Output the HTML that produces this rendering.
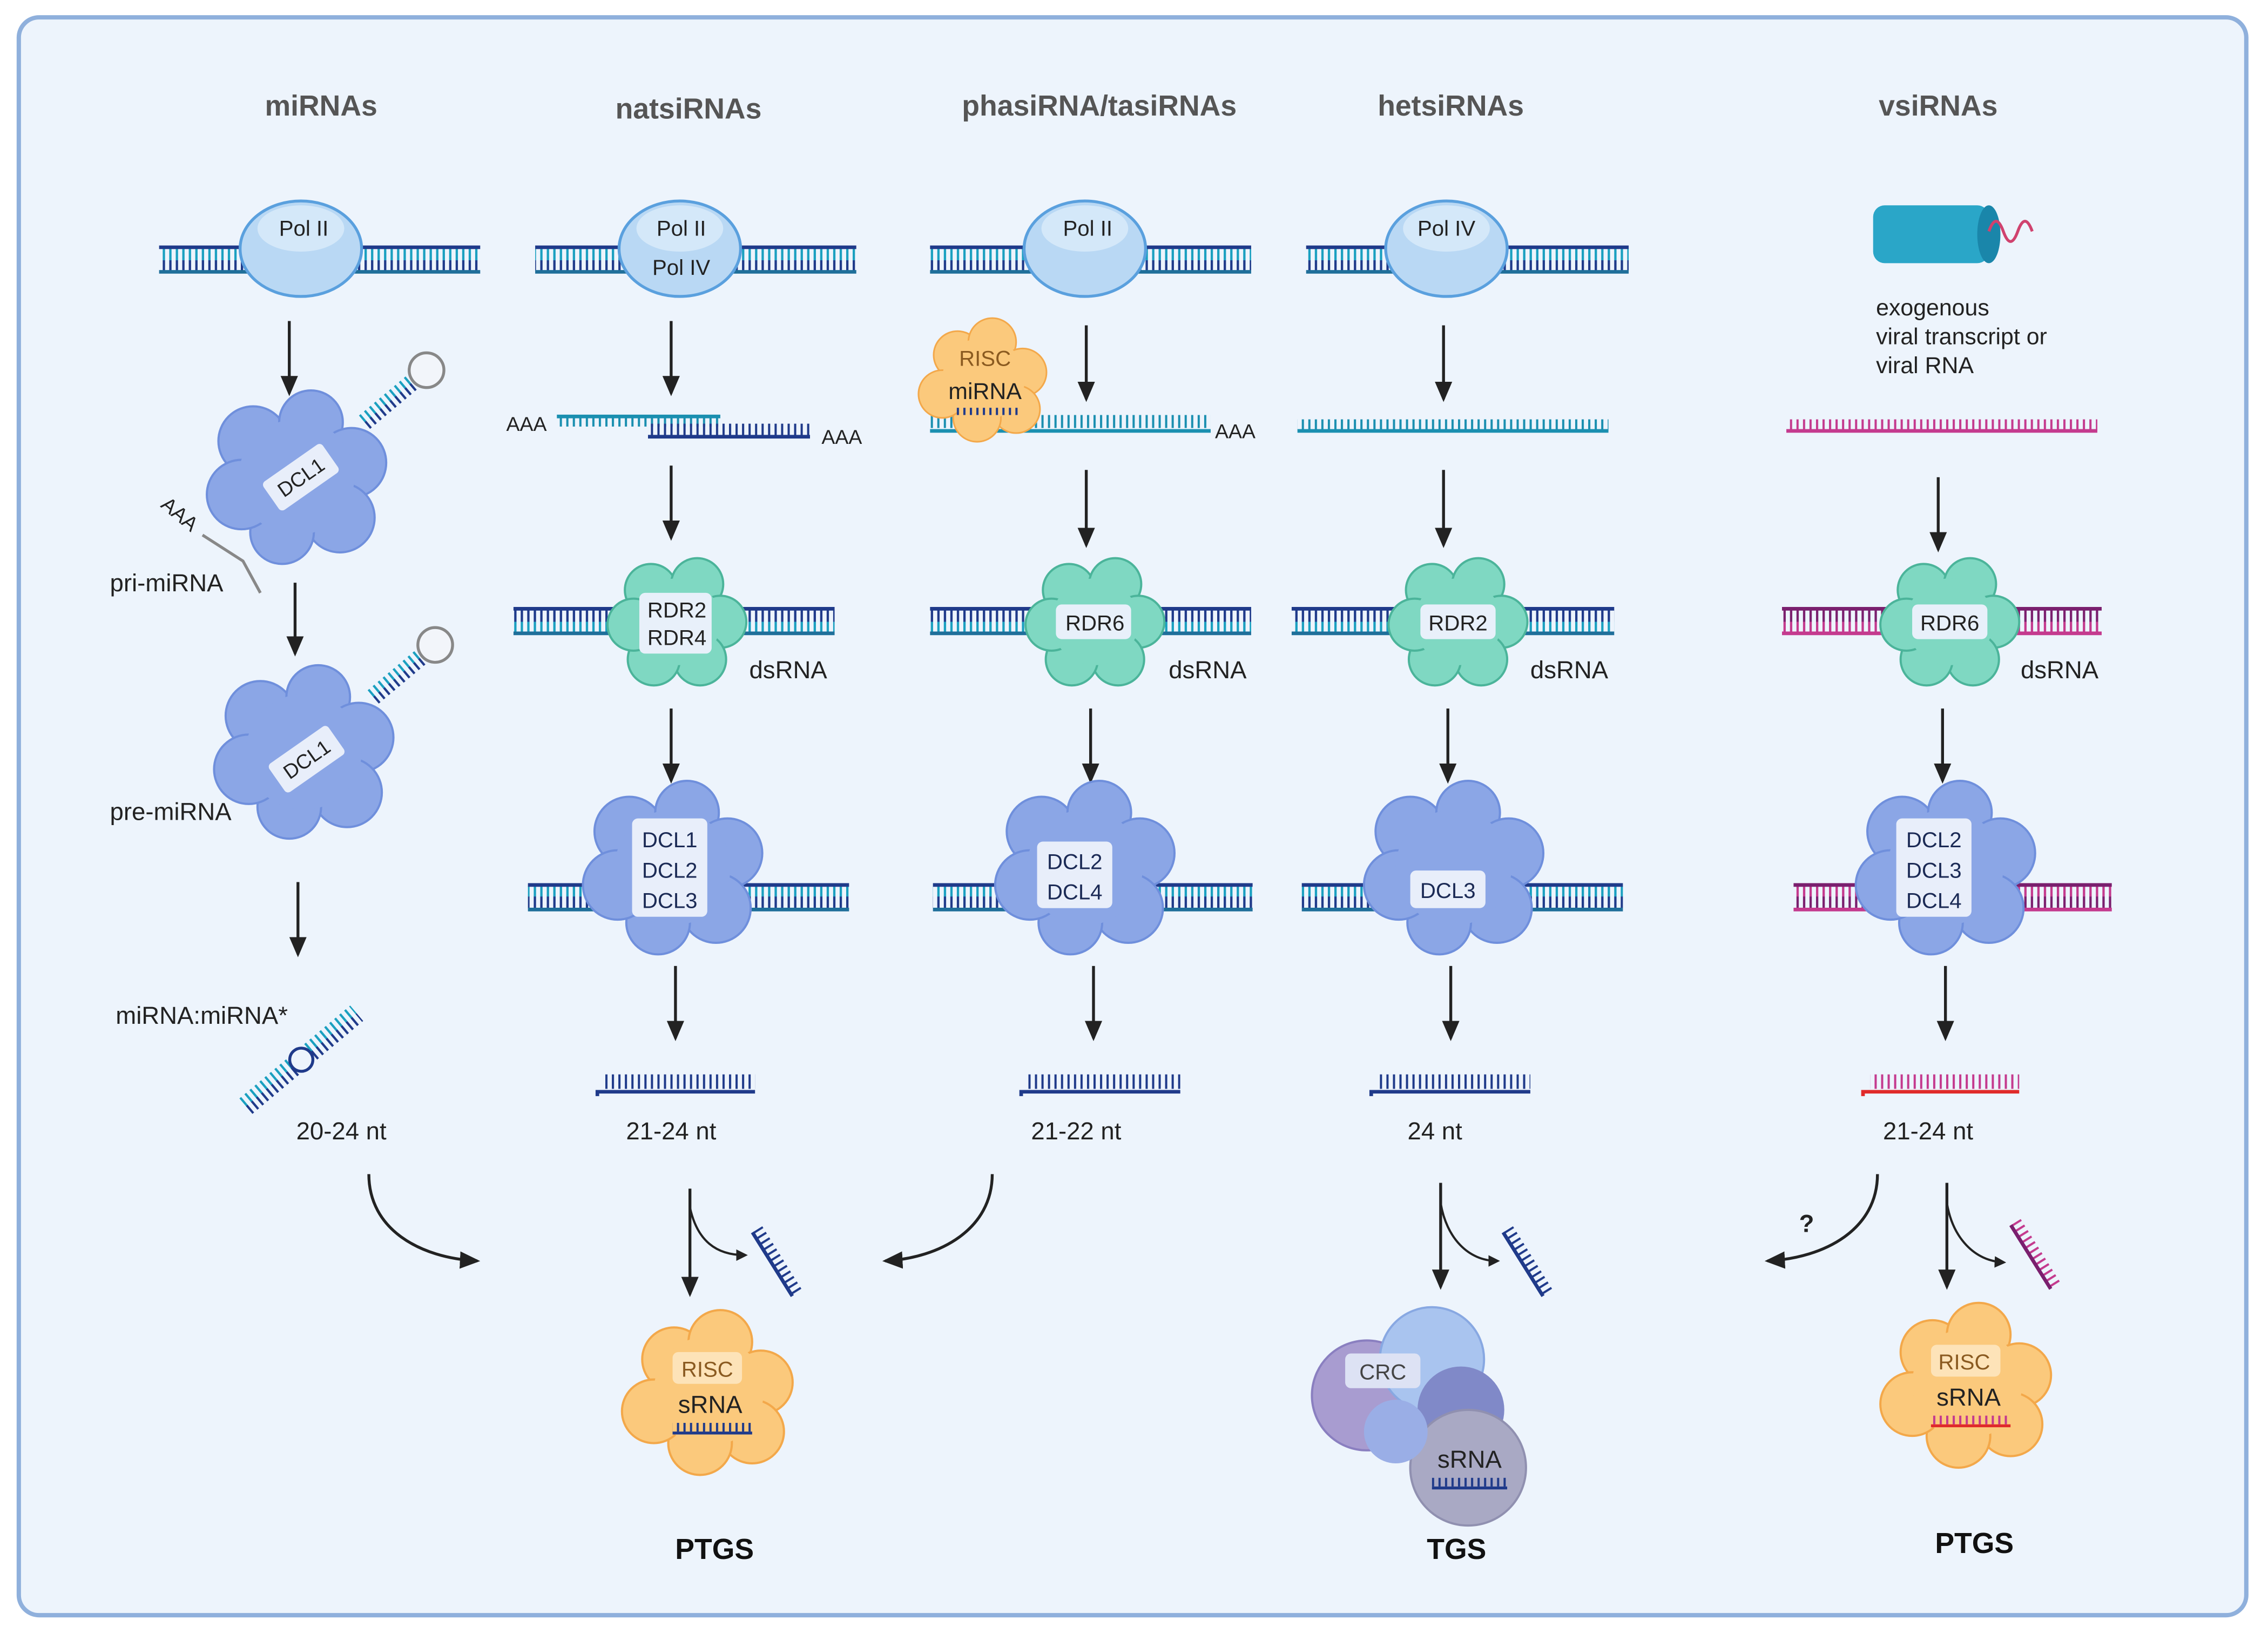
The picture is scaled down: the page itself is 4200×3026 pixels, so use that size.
<!DOCTYPE html>
<html><head><meta charset="utf-8"><style>
html,body{margin:0;padding:0;background:#fff}
svg{display:block}
text{font-family:"Liberation Sans",sans-serif}
</style></head><body>
<svg width="4200" height="3026" viewBox="0 0 1568 1130" preserveAspectRatio="none" xmlns="http://www.w3.org/2000/svg">
<defs>
<pattern id="tk" patternUnits="userSpaceOnUse" width="4.5" height="20"><rect x="0" y="0" width="1.6" height="10" fill="#1f3a8a"/><rect x="0" y="10" width="1.6" height="10" fill="#1aa0c0"/></pattern>
<pattern id="tkm" patternUnits="userSpaceOnUse" width="4.5" height="20"><rect x="0" y="0" width="1.6" height="10" fill="#7a1f6e"/><rect x="0" y="10" width="1.6" height="10" fill="#c43a8e"/></pattern>
<pattern id="st" patternUnits="userSpaceOnUse" width="4.5" height="10"><rect x="0" y="0" width="1.5" height="10" fill="#1a8fb0"/></pattern>
<pattern id="stn" patternUnits="userSpaceOnUse" width="4.5" height="10"><rect x="0" y="0" width="1.5" height="10" fill="#1f3a8a"/></pattern>
<pattern id="stm" patternUnits="userSpaceOnUse" width="4.5" height="10"><rect x="0" y="0" width="1.5" height="10" fill="#c43a8e"/></pattern>
<marker id="ar" markerWidth="8" markerHeight="8" refX="6" refY="4" orient="auto" markerUnits="userSpaceOnUse"><path d="M0,0 L8,4 L0,8 z" fill="#222"/></marker>
<marker id="ar2" markerWidth="14" markerHeight="12" refX="12" refY="6" orient="auto" markerUnits="userSpaceOnUse"><path d="M0,0 L14,6 L0,12 z" fill="#222"/></marker>
<g id="pol"><ellipse cx="0" cy="0" rx="42" ry="33" fill="#b9d8f4" stroke="#5aa0de" stroke-width="2"/><ellipse cx="0" cy="-14" rx="30" ry="16" fill="#d4e8f9"/></g>
<g id="dcl" fill="#8ba6e6" stroke="#6f8fdc" stroke-width="1.5"><circle cx="-30" cy="-25" r="24"/><circle cx="10" cy="-38" r="22"/><circle cx="38" cy="-10" r="24"/><circle cx="30" cy="28" r="24"/><circle cx="-10" cy="38" r="22"/><circle cx="-38" cy="12" r="24"/><circle cx="0" cy="0" r="40" stroke="none"/></g>
<g id="rdr" fill="#7fd8c2" stroke="#4bb49a" stroke-width="1.5"><circle cx="-18" cy="-22" r="18"/><circle cx="14" cy="-26" r="18"/><circle cx="30" cy="0" r="18"/><circle cx="16" cy="26" r="18"/><circle cx="-16" cy="26" r="18"/><circle cx="-30" cy="2" r="18"/><circle cx="0" cy="0" r="30" stroke="none"/></g>
<g id="risc" fill="#fbc97c" stroke="#f3a84a" stroke-width="1.5"><circle cx="-24" cy="-22" r="22"/><circle cx="8" cy="-34" r="22"/><circle cx="36" cy="-6" r="22"/><circle cx="30" cy="28" r="22"/><circle cx="-6" cy="36" r="22"/><circle cx="-38" cy="14" r="22"/><circle cx="0" cy="0" r="38" stroke="none"/></g>
</defs>
<rect x="0" y="0" width="1568" height="1130" fill="#fff"/>
<rect x="13" y="12" width="1540" height="1105" rx="14" fill="#edf4fc" stroke="#8fb0dc" stroke-width="3"/>

<g font-weight="bold" font-size="20" fill="#555" text-anchor="middle">
<text x="222" y="80">miRNAs</text><text x="476" y="82">natsiRNAs</text><text x="760" y="80">phasiRNA/tasiRNAs</text><text x="1003" y="80">hetsiRNAs</text><text x="1340" y="80">vsiRNAs</text>
</g>

<!-- DNA row 1 -->
<g>
<rect x="110" y="172" width="222" height="15" fill="url(#tk)"/><line x1="110" y1="171" x2="332" y2="171" stroke="#1f3a8a" stroke-width="2.5"/><line x1="110" y1="188" x2="332" y2="188" stroke="#1f6f9a" stroke-width="2.5"/>
<rect x="370" y="172" width="222" height="15" fill="url(#tk)"/><line x1="370" y1="171" x2="592" y2="171" stroke="#1f3a8a" stroke-width="2.5"/><line x1="370" y1="188" x2="592" y2="188" stroke="#1f6f9a" stroke-width="2.5"/>
<rect x="643" y="172" width="222" height="15" fill="url(#tk)"/><line x1="643" y1="171" x2="865" y2="171" stroke="#1f3a8a" stroke-width="2.5"/><line x1="643" y1="188" x2="865" y2="188" stroke="#1f6f9a" stroke-width="2.5"/>
<rect x="903" y="172" width="223" height="15" fill="url(#tk)"/><line x1="903" y1="171" x2="1126" y2="171" stroke="#1f3a8a" stroke-width="2.5"/><line x1="903" y1="188" x2="1126" y2="188" stroke="#1f6f9a" stroke-width="2.5"/>
</g>
<use href="#pol" x="208" y="172"/><use href="#pol" x="470" y="172"/><use href="#pol" x="750" y="172"/><use href="#pol" x="1000" y="172"/>
<g font-size="15" fill="#222" text-anchor="middle">
<text x="210" y="163">Pol II</text><text x="471" y="163">Pol II</text><text x="471" y="190">Pol IV</text><text x="752" y="163">Pol II</text><text x="1000" y="163">Pol IV</text>
</g>

<!-- virus -->
<rect x="1295" y="142" width="80" height="40" rx="8" fill="#2aa6c8"/>
<ellipse cx="1375" cy="162" rx="8" ry="20" fill="#1a86aa"/>
<path d="M1375,160 q5,-14 10,0 q5,14 10,0 q5,-14 10,0" fill="none" stroke="#d0426e" stroke-width="2"/>
<g font-size="16" fill="#222"><text x="1297" y="218">exogenous</text><text x="1297" y="238">viral transcript or</text><text x="1297" y="258">viral RNA</text></g>

<!-- arrows -->
<g stroke="#222" stroke-width="2" marker-end="url(#ar2)">
<line x1="200" y1="222" x2="200" y2="272"/><line x1="204" y1="403" x2="204" y2="452"/><line x1="206" y1="610" x2="206" y2="660"/>
<line x1="464" y1="222" x2="464" y2="272"/><line x1="464" y1="322" x2="464" y2="372"/><line x1="464" y1="490" x2="464" y2="540"/><line x1="467" y1="668" x2="467" y2="718"/>
<line x1="751" y1="225" x2="751" y2="276"/><line x1="751" y1="325" x2="751" y2="377"/><line x1="754" y1="490" x2="754" y2="540"/><line x1="756" y1="668" x2="756" y2="718"/>
<line x1="998" y1="225" x2="998" y2="276"/><line x1="998" y1="325" x2="998" y2="377"/><line x1="1001" y1="490" x2="1001" y2="540"/><line x1="1003" y1="668" x2="1003" y2="718"/>
<line x1="1340" y1="330" x2="1340" y2="380"/><line x1="1343" y1="490" x2="1343" y2="540"/><line x1="1345" y1="668" x2="1345" y2="718"/>
<line x1="477" y1="822" x2="477" y2="895"/><line x1="996" y1="818" x2="996" y2="890"/><line x1="1346" y1="818" x2="1346" y2="890"/>
</g>
<g stroke="#222" stroke-width="2" fill="none" marker-end="url(#ar2)">
<path d="M255,812 C255,850 290,870 330,872"/>
<path d="M686,812 C686,850 650,870 612,872"/>
<path d="M1298,812 C1298,850 1262,870 1222,872"/>
</g>
<g stroke="#222" stroke-width="1.5" fill="none" marker-end="url(#ar)">
<path d="M477,835 C482,858 495,868 515,868"/>
<path d="M996,832 C1000,856 1015,872 1035,872"/>
<path d="M1346,832 C1350,856 1365,872 1385,873"/>
</g>
<text x="1249" y="852" font-size="17" font-weight="bold" fill="#222" text-anchor="middle">?</text>

<!-- miRNA column -->
<use href="#dcl" x="205" y="330"/>
<g transform="translate(252,292) rotate(-40)"><rect x="0" y="-6" width="45" height="12" fill="url(#tk)"/><circle cx="56" cy="0" r="12" fill="#f2f5fa" stroke="#888" stroke-width="2"/></g>
<path d="M140,370 L168,388 L180,410" stroke="#888" stroke-width="2" fill="none"/>
<text x="112" y="358" font-size="14" fill="#222" transform="rotate(40 122 352)">AAA</text>
<g transform="translate(208,330) rotate(-35)"><rect x="-25" y="-12" width="50" height="24" rx="3" fill="#e8eefa"/><text x="0" y="5" font-size="14" fill="#222" text-anchor="middle">DCL1</text></g>
<text x="76" y="409" font-size="17" fill="#222">pri-miRNA</text>
<use href="#dcl" x="210" y="520"/>
<g transform="translate(258,482) rotate(-40)"><rect x="0" y="-6" width="45" height="12" fill="url(#tk)"/><circle cx="56" cy="0" r="12" fill="#f2f5fa" stroke="#888" stroke-width="2"/></g>
<g transform="translate(212,525) rotate(-35)"><rect x="-25" y="-12" width="50" height="24" rx="3" fill="#e8eefa"/><text x="0" y="5" font-size="14" fill="#222" text-anchor="middle">DCL1</text></g>
<text x="76" y="567" font-size="17" fill="#222">pre-miRNA</text>
<text x="80" y="708" font-size="17" fill="#222">miRNA:miRNA*</text>
<g transform="translate(170,765) rotate(-40)"><rect x="0" y="-7" width="100" height="14" fill="url(#tk)"/><circle cx="50" cy="0" r="8" fill="#edf4fc" stroke="#1f3a8a" stroke-width="2"/></g>
<g font-size="17" fill="#222" text-anchor="middle">
<text x="236" y="788">20-24 nt</text><text x="464" y="788">21-24 nt</text><text x="744" y="788">21-22 nt</text><text x="992" y="788">24 nt</text><text x="1333" y="788">21-24 nt</text>
</g>

<!-- nat column -->
<text x="350" y="298" font-size="14" fill="#222">AAA</text>
<rect x="385" y="287" width="113" height="8" fill="url(#st)"/><line x1="385" y1="288" x2="498" y2="288" stroke="#1a8fb0" stroke-width="2.5"/>
<rect x="448" y="293" width="112" height="8" fill="url(#stn)"/><line x1="448" y1="302" x2="560" y2="302" stroke="#1f3a8a" stroke-width="2.5"/>
<text x="568" y="307" font-size="14" fill="#222">AAA</text>

<!-- phasi -->
<rect x="643" y="287" width="194" height="9" fill="url(#st)"/><line x1="643" y1="298" x2="837" y2="298" stroke="#1a8fb0" stroke-width="2.5"/>
<text x="840" y="303" font-size="14" fill="#222">AAA</text>
<use href="#risc" x="680" y="262" transform="translate(680,262) scale(0.75) translate(-680,-262)"/>
<text x="681" y="253" font-size="15" fill="#8a5a20" text-anchor="middle">RISC</text>
<text x="681" y="276" font-size="16" fill="#222" text-anchor="middle">miRNA</text>
<rect x="660" y="282" width="44" height="5" fill="url(#stn)"/>

<!-- het -->
<rect x="897" y="290" width="215" height="8" fill="url(#st)"/><line x1="897" y1="298" x2="1112" y2="298" stroke="#1a8fb0" stroke-width="2.5"/>
<!-- vs -->
<rect x="1235" y="290" width="215" height="8" fill="url(#stm)"/><line x1="1235" y1="298" x2="1450" y2="298" stroke="#c43a8e" stroke-width="2.5"/>

<!-- dsRNA row -->
<g>
<rect x="355" y="422" width="222" height="15" fill="url(#tk)"/><line x1="355" y1="421" x2="577" y2="421" stroke="#1f3a8a" stroke-width="2.5"/><line x1="355" y1="438" x2="577" y2="438" stroke="#1f6f9a" stroke-width="2.5"/>
<rect x="643" y="422" width="222" height="15" fill="url(#tk)"/><line x1="643" y1="421" x2="865" y2="421" stroke="#1f3a8a" stroke-width="2.5"/><line x1="643" y1="438" x2="865" y2="438" stroke="#1f6f9a" stroke-width="2.5"/>
<rect x="893" y="422" width="223" height="15" fill="url(#tk)"/><line x1="893" y1="421" x2="1116" y2="421" stroke="#1f3a8a" stroke-width="2.5"/><line x1="893" y1="438" x2="1116" y2="438" stroke="#1f6f9a" stroke-width="2.5"/>
<rect x="1232" y="422" width="221" height="15" fill="url(#tkm)"/><line x1="1232" y1="421" x2="1453" y2="421" stroke="#7a1f6e" stroke-width="2.5"/><line x1="1232" y1="438" x2="1453" y2="438" stroke="#c43a8e" stroke-width="2.5"/>
</g>
<use href="#rdr" x="468" y="430"/><use href="#rdr" x="757" y="430"/><use href="#rdr" x="1008" y="430"/><use href="#rdr" x="1348" y="430"/>
<g fill="#e8f0fa"><rect x="442" y="410" width="50" height="42" rx="4"/><rect x="730" y="418" width="52" height="24" rx="4"/><rect x="982" y="418" width="52" height="24" rx="4"/><rect x="1322" y="418" width="52" height="24" rx="4"/></g>
<g font-size="15" fill="#222" text-anchor="middle">
<text x="468" y="427">RDR2</text><text x="468" y="446">RDR4</text><text x="757" y="436">RDR6</text><text x="1008" y="436">RDR2</text><text x="1348" y="436">RDR6</text>
</g>
<g font-size="17" fill="#222"><text x="518" y="469">dsRNA</text><text x="808" y="469">dsRNA</text><text x="1058" y="469">dsRNA</text><text x="1397" y="469">dsRNA</text></g>

<!-- DCL row -->
<g>
<rect x="365" y="613" width="222" height="15" fill="url(#tk)"/><line x1="365" y1="612" x2="587" y2="612" stroke="#1f3a8a" stroke-width="2.5"/><line x1="365" y1="629" x2="587" y2="629" stroke="#1f6f9a" stroke-width="2.5"/>
<rect x="645" y="613" width="221" height="15" fill="url(#tk)"/><line x1="645" y1="612" x2="866" y2="612" stroke="#1f3a8a" stroke-width="2.5"/><line x1="645" y1="629" x2="866" y2="629" stroke="#1f6f9a" stroke-width="2.5"/>
<rect x="900" y="613" width="222" height="15" fill="url(#tk)"/><line x1="900" y1="612" x2="1122" y2="612" stroke="#1f3a8a" stroke-width="2.5"/><line x1="900" y1="629" x2="1122" y2="629" stroke="#1f6f9a" stroke-width="2.5"/>
<rect x="1240" y="613" width="220" height="15" fill="url(#tkm)"/><line x1="1240" y1="612" x2="1460" y2="612" stroke="#7a1f6e" stroke-width="2.5"/><line x1="1240" y1="629" x2="1460" y2="629" stroke="#c43a8e" stroke-width="2.5"/>
</g>
<use href="#dcl" x="465" y="600"/><use href="#dcl" x="750" y="600"/><use href="#dcl" x="1005" y="600"/><use href="#dcl" x="1345" y="600"/>
<g fill="#e8eefa"><rect x="437" y="566" width="52" height="68" rx="4"/><rect x="717" y="582" width="52" height="46" rx="4"/><rect x="975" y="602" width="52" height="26" rx="4"/><rect x="1311" y="566" width="52" height="68" rx="4"/></g>
<g font-size="15" fill="#1b2a55" text-anchor="middle">
<text x="463" y="586">DCL1</text><text x="463" y="607">DCL2</text><text x="463" y="628">DCL3</text>
<text x="743" y="601">DCL2</text><text x="743" y="622">DCL4</text>
<text x="1001" y="621">DCL3</text>
<text x="1337" y="586">DCL2</text><text x="1337" y="607">DCL3</text><text x="1337" y="628">DCL4</text>
</g>

<!-- short sRNAs -->
<g>
<rect x="418" y="743" width="104" height="10" fill="url(#stn)"/><path d="M413,758 L413,755 L522,755" stroke="#1f3a8a" stroke-width="2.5" fill="none"/>
<rect x="711" y="743" width="105" height="10" fill="url(#stn)"/><path d="M706,758 L706,755 L816,755" stroke="#1f3a8a" stroke-width="2.5" fill="none"/>
<rect x="953" y="743" width="105" height="10" fill="url(#stn)"/><path d="M948,758 L948,755 L1058,755" stroke="#1f3a8a" stroke-width="2.5" fill="none"/>
<rect x="1293" y="743" width="103" height="10" fill="url(#stm)"/><path d="M1288,758 L1288,755 L1396,755" stroke="#e02a2a" stroke-width="2.5" fill="none"/>
</g>
<!-- released strands -->
<g transform="translate(527,848) rotate(58)"><rect x="0" y="0" width="52" height="8" fill="url(#stn)"/><line x1="0" y1="8" x2="52" y2="8" stroke="#1f3a8a" stroke-width="2.5"/></g>
<g transform="translate(1046,848) rotate(58)"><rect x="0" y="0" width="52" height="8" fill="url(#stn)"/><line x1="0" y1="8" x2="52" y2="8" stroke="#1f3a8a" stroke-width="2.5"/></g>
<g transform="translate(1397,843) rotate(58)"><rect x="0" y="0" width="52" height="8" fill="url(#stm)"/><line x1="0" y1="8" x2="52" y2="8" stroke="#7a1f6e" stroke-width="2.5"/></g>

<!-- RISC complexes -->
<use href="#risc" x="490" y="962"/>
<rect x="465" y="935" width="48" height="22" rx="4" fill="#fde3b8"/>
<text x="489" y="952" font-size="15" fill="#8a5a20" text-anchor="middle">RISC</text>
<text x="491" y="977" font-size="17" fill="#222" text-anchor="middle">sRNA</text>
<rect x="465" y="984" width="55" height="6" fill="url(#stn)"/><line x1="465" y1="991" x2="520" y2="991" stroke="#1f3a8a" stroke-width="2"/>

<use href="#risc" x="1360" y="957"/>
<rect x="1335" y="930" width="48" height="22" rx="4" fill="#fde3b8"/>
<text x="1358" y="947" font-size="15" fill="#8a5a20" text-anchor="middle">RISC</text>
<text x="1361" y="972" font-size="17" fill="#222" text-anchor="middle">sRNA</text>
<rect x="1335" y="979" width="55" height="6" fill="url(#stm)"/><line x1="1335" y1="986" x2="1390" y2="986" stroke="#e02a2a" stroke-width="2"/>

<!-- CRC -->
<g>
<circle cx="945" cy="965" r="38" fill="#a89cd0" stroke="#8a7fc0" stroke-width="1.5"/>
<circle cx="990" cy="940" r="36" fill="#a9c4ef" stroke="#88a8e2" stroke-width="1.5"/>
<circle cx="1010" cy="975" r="30" fill="#8089c8"/>
<circle cx="1015" cy="1015" r="40" fill="#a9a9c4" stroke="#9090b0" stroke-width="1.5"/>
<circle cx="965" cy="990" r="22" fill="#9aaee6"/>
</g>
<rect x="930" y="936" width="52" height="24" rx="4" fill="#dde2f4"/>
<text x="956" y="954" font-size="15" fill="#444" text-anchor="middle">CRC</text>
<text x="1016" y="1015" font-size="17" fill="#222" text-anchor="middle">sRNA</text>
<rect x="990" y="1022" width="52" height="6" fill="url(#stn)"/><line x1="990" y1="1029" x2="1042" y2="1029" stroke="#1f3a8a" stroke-width="2"/>

<g font-size="20" font-weight="bold" fill="#111" text-anchor="middle">
<text x="494" y="1078">PTGS</text><text x="1007" y="1078">TGS</text><text x="1365" y="1074">PTGS</text>
</g>
</svg>
</body></html>
